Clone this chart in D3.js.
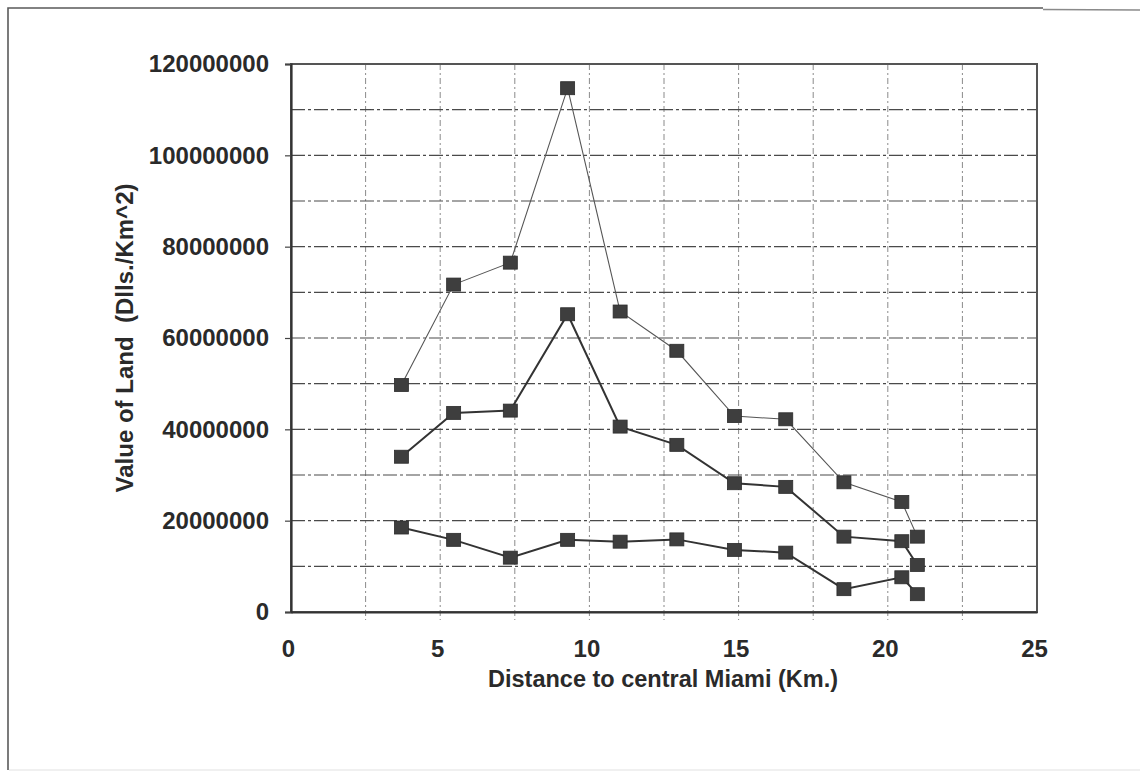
<!DOCTYPE html>
<html>
<head>
<meta charset="utf-8">
<script src="https://cdn.jsdelivr.net/npm/d3@7/dist/d3.min.js"></script>
<style>
  html, body { margin: 0; padding: 0; background: #fff; }
  svg { display: block; }
  text { font-family: "Liberation Sans", Arial, sans-serif; }
</style>
</head>
<body>
<svg id="chart" width="1140" height="775"></svg>
<script>
// Distance to central Miami (km) for each sampled ring
const distances = [3.7, 5.45, 7.35, 9.27, 11.03, 12.93, 14.86, 16.58, 18.53, 20.47, 20.99];

// Land value per km^2 (dollars) for three series
const seriesHigh = [49700000, 71700000, 76500000, 114700000, 65800000, 57200000, 42900000, 42200000, 28400000, 24100000, 16500000];
const seriesMid  = [34000000, 43600000, 44100000, 65200000, 40600000, 36600000, 28200000, 27400000, 16500000, 15500000, 10300000];
const seriesLow  = [18500000, 15800000, 11900000, 15800000, 15400000, 15900000, 13600000, 13000000, 5000000, 7600000, 3900000];

const xTickValues = [0, 5, 10, 15, 20, 25];
const yTickValues = [0, 20000000, 40000000, 60000000, 80000000, 100000000, 120000000];

const xTitle = "Distance to central Miami (Km.)";
const yTitle = "Value of Land  (Dlls./Km^2)";

const svg = d3.select("#chart");

// outer frame of the figure
svg.append("path")
  .attr("d", "M8,770 L8,8 L1043,8")
  .attr("fill", "none").attr("stroke", "#5a5a5a").attr("stroke-width", 1.6);
svg.append("path")
  .attr("d", "M1043,9.5 L1140,10")
  .attr("fill", "none").attr("stroke", "#8a8a8a").attr("stroke-width", 1.4);
svg.append("path")
  .attr("d", "M9,770 L1140,770")
  .attr("fill", "none").attr("stroke", "#e2e2e2").attr("stroke-width", 1.2);

// plot area
const plotLeft = 291, plotRight = 1037, plotTop = 64, plotBottom = 612;
const x = d3.scaleLinear().domain([0, 25]).range([plotLeft, plotRight]);
const y = d3.scaleLinear().domain([0, 120000000]).range([plotBottom, plotTop]);

// vertical grid every 2.5 km
const xGrid = d3.range(2.5, 25, 2.5);
svg.append("g").selectAll("line").data(xGrid).join("line")
  .attr("x1", d => x(d)).attr("x2", d => x(d))
  .attr("y1", plotTop).attr("y2", plotBottom + 8)
  .attr("stroke", "#8a8a8a").attr("stroke-width", 1)
  .attr("stroke-dasharray", "6,3,2,3");

// horizontal grid every 10 million
const yGrid = d3.range(10000000, 120000000, 10000000);
svg.append("g").selectAll("line").data(yGrid).join("line")
  .attr("x1", plotLeft).attr("x2", plotRight)
  .attr("y1", d => y(d)).attr("y2", d => y(d))
  .attr("stroke", "#4a4a4a").attr("stroke-width", 1.1)
  .attr("stroke-dasharray", "14,3,3,3");

// plot border
svg.append("rect")
  .attr("x", plotLeft).attr("y", plotTop)
  .attr("width", plotRight - plotLeft).attr("height", plotBottom - plotTop)
  .attr("fill", "none").attr("stroke", "#555").attr("stroke-width", 2);

// y axis
const yAxis = d3.axisLeft(y).tickValues(yTickValues).tickSize(6).tickPadding(16)
  .tickFormat(d3.format("d"));
const gy = svg.append("g").attr("transform", `translate(${plotLeft},0)`).call(yAxis);
gy.select(".domain").attr("stroke", "#333").attr("stroke-width", 2.2);
gy.selectAll(".tick line").attr("stroke", "#444").attr("stroke-width", 1.2);
gy.selectAll(".tick text")
  .attr("font-size", 24).attr("font-weight", "bold").attr("fill", "#2a2a2a")
  .attr("font-family", "Liberation Sans, Arial, sans-serif");

// x axis
const xAxis = d3.axisBottom(x).tickValues(xTickValues).tickSize(0).tickPadding(28)
  .tickFormat(d3.format("d"));
const gx = svg.append("g").attr("transform", `translate(0,${plotBottom})`).call(xAxis);
gx.select(".domain").attr("stroke", "#333").attr("stroke-width", 2.2);
gx.selectAll(".tick text")
  .attr("font-size", 24).attr("font-weight", "bold").attr("fill", "#2a2a2a")
  .attr("dx", -3)
  .attr("font-family", "Liberation Sans, Arial, sans-serif");

// axis titles
svg.append("text")
  .attr("x", 663).attr("y", 687)
  .attr("text-anchor", "middle")
  .attr("font-size", 23).attr("font-weight", "bold").attr("fill", "#2a2a2a")
  .attr("textLength", 350).attr("lengthAdjust", "spacingAndGlyphs")
  .text(xTitle);

svg.append("text")
  .attr("transform", "translate(133,338) rotate(-90)")
  .attr("text-anchor", "middle")
  .attr("xml:space", "preserve")
  .style("white-space", "pre")
  .attr("font-size", 23).attr("font-weight", "bold").attr("fill", "#2a2a2a")
  .attr("textLength", 309).attr("lengthAdjust", "spacingAndGlyphs")
  .text(yTitle);

// series lines and square markers
const series = [
  { values: seriesHigh, width: 1.1, color: "#555" },
  { values: seriesMid,  width: 2.0, color: "#333" },
  { values: seriesLow,  width: 2.0, color: "#333" }
];

const line = d3.line().x(d => x(d[0])).y(d => y(d[1]));

series.forEach(s => {
  const pts = distances.map((d, i) => [d, s.values[i]]);
  svg.append("path")
    .datum(pts)
    .attr("d", line)
    .attr("fill", "none")
    .attr("stroke", s.color)
    .attr("stroke-width", s.width);
});

const size = 14;
series.forEach(s => {
  const pts = distances.map((d, i) => [d, s.values[i]]);
  svg.append("g").selectAll("rect").data(pts).join("rect")
    .attr("x", d => x(d[0]) - size / 2)
    .attr("y", d => y(d[1]) - size / 2 + 0.5)
    .attr("width", size).attr("height", size - 1)
    .attr("fill", "#3e3e3e")
    .attr("stroke", "#2c2c2c").attr("stroke-width", 0.8);
});
</script>
</body>
</html>
